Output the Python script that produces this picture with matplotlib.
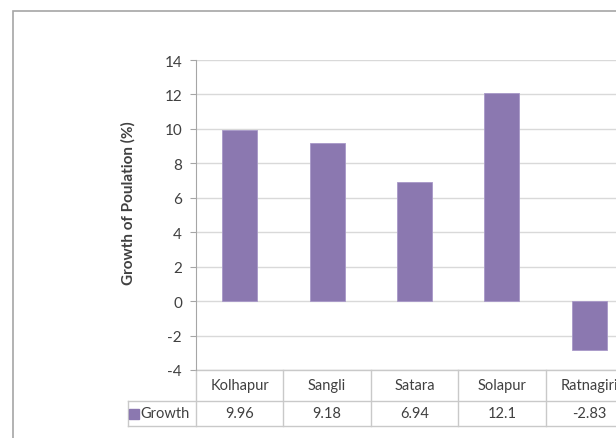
import numpy as np
import matplotlib
matplotlib.use("Agg")
import matplotlib.pyplot as plt
import matplotlib.transforms as mtransforms
from matplotlib.patches import Rectangle

# data
districts = ['Kolhapur', 'Sangli', 'Satara', 'Solapur', 'Ratnagiri']
growth = [9.96, 9.18, 6.94, 12.1, -2.83]
value_labels = ['9.96', '9.18', '6.94', '12.1', '-2.83']
series_name = 'Growth'
y_ticks = [-4, -2, 0, 2, 4, 6, 8, 10, 12, 14]

bar_color = '#8b78b0'
text_color = '#404040'
line_color = '#c9c9c9'

plt.rcParams['font.family'] = ['Lato', 'DejaVu Sans']

W, H = 616, 439
fig = plt.figure(figsize=(W / 100, H / 100), dpi=100)

# outer chart-area border (cropped on the right and bottom)
fig.patches.append(Rectangle((13 / W, -0.1), 1.2, 1 - 12 / H + 0.1,
                             transform=fig.transFigure, fill=False,
                             edgecolor='#a6a6a6', linewidth=1.2))

cell_w = 87.4  # pixels per category
ax = fig.add_axes([196 / W, 1 - 371 / H, 420 / W, 310 / H])
x = np.arange(len(districts))
ax.bar(x, growth, width=0.4, color=bar_color, edgecolor='#a898c8', linewidth=0.6, zorder=3)

ax.set_xlim(-0.5, -0.5 + 420 / cell_w)
ax.set_ylim(-4, 14)
ax.set_yticks(y_ticks)
ax.set_yticklabels([str(v) for v in y_ticks], color=text_color, fontsize=11)
ax.tick_params(axis='y', length=4, color='#a6a6a6', pad=6)
ax.set_xticks([])
ax.yaxis.grid(True, color='#d9d9d9', linewidth=1)
ax.set_axisbelow(True)
for s in ['top', 'right', 'bottom']:
    ax.spines[s].set_visible(False)
ax.spines['left'].set_color('#a6a6a6')

ax.set_ylabel('Growth of Poulation (%)', fontsize=11, fontweight='bold', color=text_color)
ax.yaxis.set_label_coords(-0.145, 0.542)

# data table under the plot
trans = mtransforms.blended_transform_factory(ax.transData, ax.transAxes)
row1 = -31 / 310
row2 = -56 / 310
legend_left = -0.5 - 68 / cell_w
right_end = len(districts) + 1
kw = dict(transform=trans, clip_on=False, color=line_color, linewidth=1)
ax.plot([-0.5, right_end], [0, 0], **kw)
ax.plot([legend_left, right_end], [row1, row1], **kw)
ax.plot([legend_left, right_end], [row2, row2], **kw)
ax.plot([legend_left, legend_left], [row1, row2], **kw)
for xi in np.arange(-0.5, len(districts) + 0.5, 1.0):
    ax.plot([xi, xi], [0, row2], **kw)

for xi, name, val in zip(x, districts, value_labels):
    ax.text(xi, row1 / 2, name, transform=trans, ha='center', va='center',
            fontsize=10.5, color=text_color, clip_on=False)
    ax.text(xi, (row1 + row2) / 2, val, transform=trans, ha='center', va='center',
            fontsize=10.5, color=text_color, clip_on=False)

ax.plot([legend_left + 0.07], [(row1 + row2) / 2], marker='s', markersize=6.5,
        color=bar_color, transform=trans, clip_on=False, linestyle='none')
ax.text(legend_left + 0.14, (row1 + row2) / 2, series_name, transform=trans,
        ha='left', va='center', fontsize=10.5, color=text_color, clip_on=False)

fig.savefig('out.png', dpi=100)
